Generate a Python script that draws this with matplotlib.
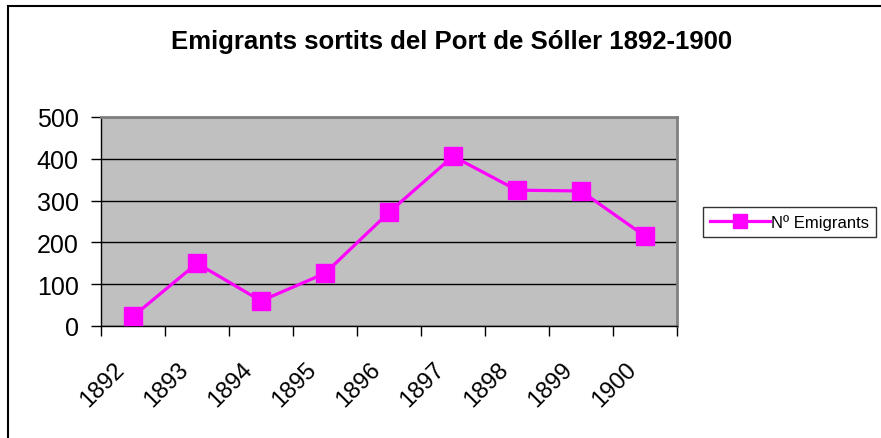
import matplotlib
matplotlib.use("Agg")
import matplotlib.pyplot as plt
import matplotlib.transforms as mtransforms
from matplotlib.patches import Rectangle

plt.rcParams['font.family'] = ['Liberation Sans', 'DejaVu Sans']

years = ['1892', '1893', '1894', '1895', '1896', '1897', '1898', '1899', '1900']
emigrants = [23, 150, 60, 126, 272, 406, 325, 323, 215]
y_ticks = [0, 100, 200, 300, 400, 500]

MAGENTA = '#FF00FF'
GRAY_BG = '#C0C0C0'

fig = plt.figure(figsize=(8.81, 4.39), dpi=100)
fig.patch.set_facecolor('white')

# marc del gràfic (surt fora de la imatge per dreta i baix)
fig.patches.append(Rectangle((8 / 881, -0.1), 1.2, 1 - 7 / 439 + 0.1,
                             transform=fig.transFigure, fill=False,
                             edgecolor='black', linewidth=1.5, zorder=0))

ax = fig.add_axes([101 / 881, 1 - 327 / 439, 576 / 881, 209 / 439])
ax.set_facecolor(GRAY_BG)

x = list(range(len(years)))
ax.plot(x, emigrants, color=MAGENTA, linewidth=2.3, marker='s',
        markersize=13, markerfacecolor=MAGENTA, markeredgecolor=MAGENTA,
        label='Nº Emigrants', zorder=3)

ax.set_xlim(-0.5, len(years) - 0.5)
ax.set_ylim(0, 500)
ax.set_yticks(y_ticks)
ax.set_yticklabels([str(v) for v in y_ticks], fontsize=18)
ax.yaxis.grid(True, color='black', linewidth=1)
ax.set_axisbelow(True)

# ticks a les fronteres de categoria, etiquetes al centre
ax.set_xticks([i - 0.5 for i in range(len(years) + 1)])
ax.set_xticklabels([])
ax.set_xticks(x, minor=True)
ax.set_xticklabels(years, minor=True, fontsize=17, rotation=45,
                   ha='right', va='center', rotation_mode='anchor')
ax.tick_params(axis='x', which='minor', length=0, pad=0)
ax.tick_params(axis='x', which='major', length=7, width=1, direction='out')
ax.tick_params(axis='y', length=7, width=1, direction='out', pad=9)

offset = mtransforms.ScaledTranslation(-0.12, -0.40, fig.dpi_scale_trans)
for lbl in ax.get_xticklabels(minor=True):
    lbl.set_transform(lbl.get_transform() + offset)

for side in ['top', 'right']:
    ax.spines[side].set_color('#808080')
    ax.spines[side].set_linewidth(2)
for side in ['left', 'bottom']:
    ax.spines[side].set_color('black')
    ax.spines[side].set_linewidth(1)

fig.text(452 / 881, 1 - 42 / 439, 'Emigrants sortits del Port de Sóller 1892-1900',
         ha='center', va='center', fontsize=18.5, fontweight='bold')

leg = fig.legend(loc='center left', bbox_to_anchor=(703 / 881, 1 - 223 / 439),
                 fontsize=12, frameon=True, fancybox=False, borderpad=0.4,
                 handlelength=3.6, handletextpad=0.1, borderaxespad=0,
                 markerscale=0.75)
leg.get_frame().set_edgecolor('black')
leg.get_frame().set_linewidth(1)

fig.savefig('out.png', dpi=100)
